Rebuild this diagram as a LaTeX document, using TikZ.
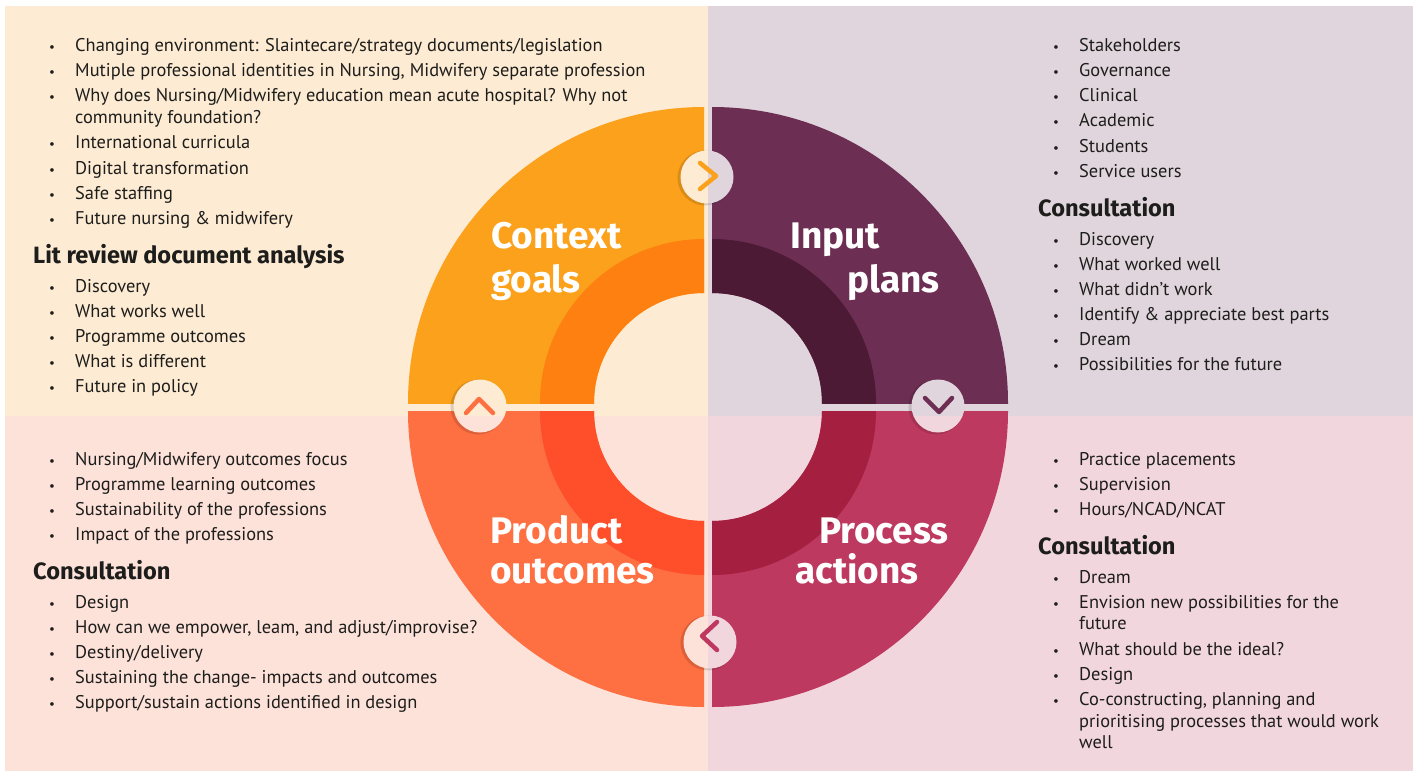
\documentclass[tikz,border=0pt]{standalone}
\usepackage{fontspec}
\setmainfont{PT Sans}
\newfontfamily\hfont{Fira Sans}
\begin{document}
\begin{tikzpicture}[x=1pt,y=-1pt,
  txt/.style={anchor=base west,inner sep=0pt,text=txtc,font=\fontsize{18.4}{20}\selectfont},
  bul/.style={anchor=base,inner sep=0pt,text=txtc,font=\fontsize{13}{15}\selectfont},
  head/.style={anchor=base west,inner sep=0pt,text=txtc,font=\hfont\bfseries\fontsize{23.6}{26}\selectfont},
  big/.style={anchor=base west,inner sep=0pt,text=white,font=\hfont\bfseries\fontsize{37}{42}\selectfont},
  chev/.style={line width=4.5pt,line cap=round,line join=round},
  btn/.style={circle,minimum size=53pt,inner sep=0pt}
]
\definecolor{txtc}{HTML}{1D1D1B}
\definecolor{bgTL}{HTML}{FDEBD3}
\definecolor{bgTR}{HTML}{E0D5DC}
\definecolor{bgBL}{HTML}{FDE2DA}
\definecolor{bgBR}{HTML}{F2D6DE}
\definecolor{ctxO}{HTML}{FBA11B}
\definecolor{ctxI}{HTML}{FD8010}
\definecolor{inpO}{HTML}{6D2E53}
\definecolor{inpI}{HTML}{4D1A36}
\definecolor{proO}{HTML}{BE3960}
\definecolor{proI}{HTML}{A41F40}
\definecolor{prdO}{HTML}{FE6F41}
\definecolor{prdI}{HTML}{FE4F2A}
\useasboundingbox (0,0) rectangle (1418,773);
\fill[white] (0,0) rectangle (1418,773);
% backgrounds
\newcommand\bgs{%
  \fill[bgTL] (5,6) rectangle (708,416);
  \fill[bgTR] (708,6) rectangle (1413,416);
  \fill[bgBL] (5,416) rectangle (708,771);
  \fill[bgBR] (708,416) rectangle (1413,771);}
\bgs
% sectors
\newcommand\sector[5]{%
  \begin{scope}[shift={(#1,#2)}]
    \clip (708,407) rectangle (#3,#4);
    \fill[#5O,even odd rule] (708,407) circle (296) (708,407) circle (110);
    \fill[#5I,even odd rule] (708,407) circle (164) (708,407) circle (110);
  \end{scope}}
\sector{-4}{-4}{300}{0}{ctx}
\sector{4}{-4}{1100}{0}{inp}
\sector{4}{4}{1100}{800}{pro}
\sector{-4}{4}{300}{800}{prd}
% buttons
\newcommand\button[3]{%
  \fill[black,opacity=0.13] (#2-2,#3+1) circle (27.5);
  \begin{scope}
    \clip (#2,#3) circle (26.5);
    \bgs
  \end{scope}
  \node[btn] (#1) at (#2,#3) {};}
\button{bT}{707}{177}
\button{bR}{938}{406}
\button{bB}{710}{642}
\button{bL}{480}{406}
\draw[chev,ctxO] (700,163) -- (716,176) -- (700,189);
\draw[chev,inpO] (925,398) -- (939,412) -- (952,398);
\draw[chev,proO] (717,622) -- (702,636) -- (717,650);
\draw[chev,prdO] (466,413) -- (479,399) -- (493,413);
% big labels
\node[big] (ctx1) at (491,248) {Context};
\node[big] (ctx2) at (491,292) {goals};
\node[big] (inp1) at (790,248) {Input};
\node[big] (inp2) at (847,292) {plans};
\node[big] (prd1) at (490,543) {Product};
\node[big] (prd2) at (490,583) {outcomes};
\node[big,anchor=base east] (pro1) at (949,543) {Process};
\node[big,anchor=base east] (pro2) at (919,583) {actions};
% items
\newcommand\itm[4]{\node[bul] (#1b) at (#2-23,#3) {•};\node[txt] (#1) at (#2,#3) {#4};}
% top left
\itm{a1}{75}{52}{Changing environment: Slaintecare/strategy documents/legislation}
\itm{a2}{75}{77}{Mutiple professional identities in Nursing, Midwifery separate profession}
\itm{a3}{75}{102}{Why does Nursing/Midwifery education mean acute hospital? Why not}
\node[txt] (a3c) at (75,124) {community foundation?};
\itm{a4}{75}{149}{International curricula}
\itm{a5}{75}{174}{Digital transformation}
\itm{a6}{75}{199}{Safe staffing}
\itm{a7}{75}{224}{Future nursing \& midwifery}
\node[head] (ah) at (33,263) {Lit review document analysis};
\itm{a8}{75}{292}{Discovery}
\itm{a9}{75}{317}{What works well}
\itm{a10}{75}{342}{Programme outcomes}
\itm{a11}{75}{367}{What is different}
\itm{a12}{75}{392}{Future in policy}
% top right
\itm{b1}{1079}{52}{Stakeholders}
\itm{b2}{1079}{77}{Governance}
\itm{b3}{1079}{102}{Clinical}
\itm{b4}{1079}{127}{Academic}
\itm{b5}{1079}{152}{Students}
\itm{b6}{1079}{177}{Service users}
\node[head] (bh) at (1038,216) {Consultation};
\itm{b7}{1079}{245}{Discovery}
\itm{b8}{1079}{270}{What worked well}
\itm{b9}{1079}{295}{What didn’t work}
\itm{b10}{1079}{320}{Identify \& appreciate best parts}
\itm{b11}{1079}{345}{Dream}
\itm{b12}{1079}{370}{Possibilities for the future}
% bottom left
\itm{c1}{75}{465}{Nursing/Midwifery outcomes focus}
\itm{c2}{75}{490}{Programme learning outcomes}
\itm{c3}{75}{515}{Sustainability of the professions}
\itm{c4}{75}{540}{Impact of the professions}
\node[head] (ch) at (33,579) {Consultation};
\itm{c5}{75}{608}{Design}
\itm{c6}{75}{633}{How can we empower, leam, and adjust/improvise?}
\itm{c7}{75}{658}{Destiny/delivery}
\itm{c8}{75}{683}{Sustaining the change- impacts and outcomes}
\itm{c9}{75}{708}{Support/sustain actions identified in design}
% bottom right
\itm{d1}{1079}{465}{Practice placements}
\itm{d2}{1079}{490}{Supervision}
\itm{d3}{1079}{515}{Hours/NCAD/NCAT}
\node[head] (dh) at (1038,554) {Consultation};
\itm{d4}{1079}{583}{Dream}
\itm{d5}{1079}{608}{Envision new possibilities for the}
\node[txt] (d5c) at (1079,629) {future};
\itm{d6}{1079}{655}{What should be the ideal?}
\itm{d7}{1079}{680}{Design}
\itm{d8}{1079}{705}{Co-constructing, planning and}
\node[txt] (d8c) at (1079,727) {prioritising processes that would work};
\node[txt] (d8d) at (1079,748) {well};
\end{tikzpicture}
\end{document}
